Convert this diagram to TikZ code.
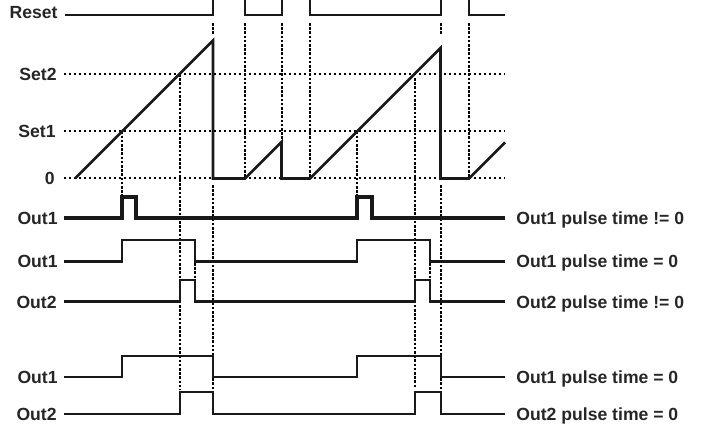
\documentclass[tikz,border=0pt]{standalone}
\usepackage{fontspec}
\setmainfont{Liberation Sans}
\begin{document}
\begin{tikzpicture}[x=0.5pt,y=-0.5pt,
  sig/.style={line width=1.3pt,line join=miter,color=black!90},
  sigthick/.style={line width=1.7pt,line join=miter,color=black!90},
  hdot/.style={line width=1pt,dash pattern=on 1pt off 1.5pt,color=black},
  vdot/.style={line width=1pt,dash pattern=on 1.3pt off 0.8pt,color=black},
  lbl/.style={font=\fontsize{8.8}{10}\selectfont\bfseries,text=black!85,inner sep=0pt},
  llbl/.style={lbl,anchor=base east},
  rlbl/.style={lbl,anchor=base west}]
\useasboundingbox (0,0) rectangle (704,426);
% horizontal reference levels
\draw[hdot] (64,74) -- (505,74);
\draw[hdot] (64,131.5) -- (505,131.5);
\draw[hdot] (64,178.5) -- (505,178.5);
% vertical guide lines
\draw[vdot] (122,131.5) -- (122,197);
\draw[vdot] (180,74) -- (180,390);
\draw[vdot] (195,263) -- (195,280);
\draw[vdot] (213,23) -- (213,34);
\draw[vdot] (213,185) -- (213,390);
\draw[vdot] (245,23) -- (245,178);
\draw[vdot] (282,23) -- (282,142);
\draw[vdot] (310,23) -- (310,178);
\draw[vdot] (357,131.5) -- (357,197);
\draw[vdot] (415,78) -- (415,388);
\draw[vdot] (430,263) -- (430,280);
\draw[vdot] (441,23) -- (441,34);
\draw[vdot] (441,185) -- (441,390);
\draw[vdot] (469,23) -- (469,178);
% Reset
\draw[sig] (65,15) -- (213,15) -- (213,-4) -- (245,-4) -- (245,15) -- (282,15) -- (282,-4) -- (310,-4) -- (310,15) -- (441,15) -- (441,-4) -- (469,-4) -- (469,15) -- (505,15);
% ramp
\draw[sig] (75,178.5) -- (213,40.5) -- (213,178.5) -- (245,178.5) -- (281.5,142) -- (281.5,178.5) -- (310,178.5) -- (440.5,48) -- (440.5,178.5) -- (469,178.5) -- (505,142.5);
% Out1 pulse time != 0
\draw[sigthick] (64,218) -- (122,218) -- (122,197) -- (136,197) -- (136,218) -- (357,218) -- (357,197) -- (372,197) -- (372,218) -- (505,218);
% Out1 pulse time = 0
\draw[sig] (64,261.5) -- (122,261.5) -- (122,240) -- (195,240) -- (195,261.5) -- (357,261.5) -- (357,240) -- (430,240) -- (430,261.5) -- (505,261.5);
% Out2 pulse time != 0
\draw[sig] (64,301.5) -- (180,301.5) -- (180,280) -- (195,280) -- (195,301.5) -- (415,301.5) -- (415,280) -- (430,280) -- (430,301.5) -- (505,301.5);
% Out1 pulse time = 0 (bottom)
\draw[sig] (64,377) -- (122,377) -- (122,356) -- (213,356) -- (213,377) -- (357,377) -- (357,356) -- (441,356) -- (441,377) -- (505,377);
% Out2 pulse time = 0 (bottom)
\draw[sig] (64,414) -- (180,414) -- (180,392) -- (213,392) -- (213,414) -- (415,414) -- (415,392) -- (441,392) -- (441,414) -- (505,414);
% left labels
\node[llbl] (lreset) at (58,19) {Reset};
\node[llbl] (lset2) at (57,80.5) {Set2};
\node[llbl] (lset1) at (56,138) {Set1};
\node[llbl] (lzero) at (55,185) {0};
\node[llbl] (lout1a) at (58,224.5) {Out1};
\node[llbl] (lout1b) at (58,268) {Out1};
\node[llbl] (lout2a) at (57,308) {Out2};
\node[llbl] (lout1c) at (58,383.5) {Out1};
\node[llbl] (lout2b) at (57,420.5) {Out2};
% right labels
\node[rlbl] (r1) at (516,224.5) {Out1 pulse time != 0};
\node[rlbl] (r2) at (516,268) {Out1 pulse time = 0};
\node[rlbl] (r3) at (516,308) {Out2 pulse time != 0};
\node[rlbl] (r4) at (516,383.5) {Out1 pulse time = 0};
\node[rlbl] (r5) at (516,420.5) {Out2 pulse time = 0};
\end{tikzpicture}
\end{document}
